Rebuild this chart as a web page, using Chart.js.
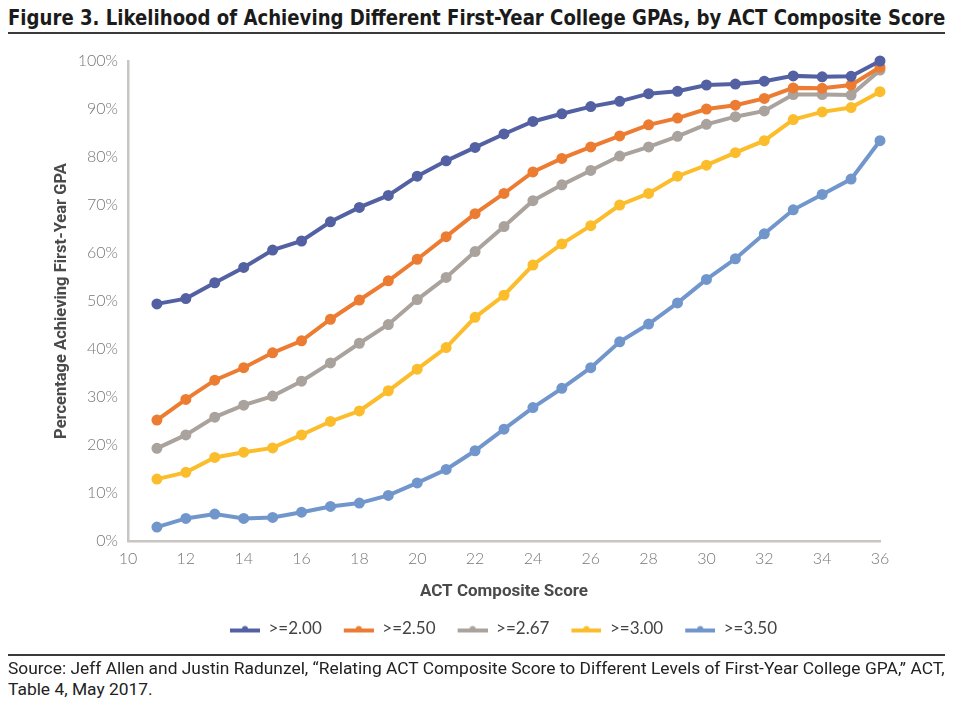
<!DOCTYPE html>
<html>
<head>
<meta charset="utf-8">
<script src="https://cdn.jsdelivr.net/npm/chart.js@4"></script>
<style>
  body { margin: 0; background: #fff; width: 963px; height: 714px; position: relative; overflow: hidden; }
  .fit { position: absolute; left: 8px; white-space: nowrap; transform-origin: 0 0; }
  #title { top: 5px; font: bold 22px "DejaVu Sans", sans-serif; color: #1b1b1b; }
  .rule { position: absolute; left: 8px; width: 937px; background: #3a3a3a; }
  #src1, #src2 { font: 17px Roboto, sans-serif; color: #222; }
  #src1 { top: 658px; }
  #src2 { top: 679px; }
  #wrap { position: absolute; left: 0; top: 40px; width: 963px; height: 620px; }
</style>
</head>
<body>
<div id="title" class="fit">Figure 3. Likelihood of Achieving Different First-Year College GPAs, by ACT Composite Score</div>
<div class="rule" style="top:32px;height:2px"></div>
<div id="wrap"><canvas id="chart"></canvas></div>
<div class="rule" style="top:654px;height:1.5px"></div>
<div id="src1" class="fit">Source: Jeff Allen and Justin Radunzel, “Relating ACT Composite Score to Different Levels of First-Year College GPA,” ACT,</div>
<div id="src2" class="fit">Table 4, May 2017.</div>
<script>
// ACT composite scores on the x axis
const scores = [11, 12, 13, 14, 15, 16, 17, 18, 19, 20, 21, 22, 23, 24, 25, 26, 27, 28, 29, 30, 31, 32, 33, 34, 35, 36];
const xTicks = [10, 12, 14, 16, 18, 20, 22, 24, 26, 28, 30, 32, 34, 36];
const yTicks = [0, 10, 20, 30, 40, 50, 60, 70, 80, 90, 100];

// percent of students reaching each first-year GPA
const gpa200 = [49.4, 50.5, 53.8, 57.0, 60.6, 62.5, 66.5, 69.5, 72.0, 76.0, 79.2, 82.0, 84.8, 87.4, 89.0, 90.5, 91.6, 93.2, 93.7, 95.0, 95.2, 95.8, 96.9, 96.7, 96.8, 100.0];
const gpa250 = [25.2, 29.5, 33.5, 36.1, 39.2, 41.7, 46.2, 50.2, 54.2, 58.7, 63.4, 68.2, 72.4, 76.9, 79.7, 82.1, 84.4, 86.7, 88.1, 90.0, 90.8, 92.2, 94.4, 94.3, 95.0, 98.7];
const gpa267 = [19.3, 22.1, 25.8, 28.3, 30.2, 33.3, 37.1, 41.2, 45.1, 50.3, 54.9, 60.3, 65.5, 70.9, 74.2, 77.2, 80.2, 82.1, 84.3, 86.8, 88.4, 89.6, 93.0, 93.0, 92.9, 98.1];
const gpa300 = [12.9, 14.3, 17.4, 18.5, 19.4, 22.1, 24.9, 27.1, 31.3, 35.8, 40.3, 46.6, 51.2, 57.5, 61.9, 65.7, 70.0, 72.4, 76.0, 78.3, 80.9, 83.4, 87.8, 89.4, 90.3, 93.6];
const gpa350 = [2.9, 4.7, 5.6, 4.7, 4.9, 6.0, 7.2, 7.9, 9.5, 12.1, 14.9, 18.8, 23.3, 27.8, 31.8, 36.1, 41.5, 45.2, 49.6, 54.5, 58.8, 64.0, 69.0, 72.2, 75.4, 83.4];

const seriesNames = ['>=2.00', '>=2.50', '>=2.67', '>=3.00', '>=3.50'];
const seriesData = [gpa200, gpa250, gpa267, gpa300, gpa350];
const seriesColors = ['#5361a3', '#ec7c31', '#a9a29d', '#fbbd2c', '#7196cc'];

// squeeze the html text lines to the width of the rules
function fitWidth(id, w) {
  const el = document.getElementById(id);
  el.style.transform = 'scaleX(' + (w / el.scrollWidth) + ')';
  return w / el.scrollWidth;
}
fitWidth('title', 937);
const s = fitWidth('src1', 937);
document.getElementById('src2').style.transform = 'scaleX(' + s + ')';

// little line + dot pictures for the legend
function legendSample(color) {
  const c = document.createElement('canvas');
  c.width = 42; c.height = 12;
  const g = c.getContext('2d');
  g.strokeStyle = color; g.lineWidth = 4;
  g.beginPath(); g.moveTo(12, 8); g.lineTo(42, 8); g.stroke();
  g.fillStyle = color;
  g.beginPath(); g.arc(27, 6.5, 3, 0, Math.PI * 2); g.fill();
  return c;
}
const samples = seriesColors.map(legendSample);

const datasets = seriesNames.map((name, i) => ({
  label: name,
  data: scores.map((x, j) => ({x: x, y: seriesData[i][j]})),
  borderColor: seriesColors[i],
  backgroundColor: seriesColors[i],
  borderWidth: 4,
  pointRadius: 3.5,
  pointHoverRadius: 3.5,
  tension: 0,
  clip: false
}));

const axisGray = '#c9c5c1';
const tickFont = {family: 'Lato', size: 16, weight: '300'};

const chart = new Chart(document.getElementById('chart'), {
  type: 'line',
  data: {datasets: datasets},
  options: {
    responsive: true,
    maintainAspectRatio: false,
    animation: false,
    layout: {padding: {top: 21, left: 32, right: 0, bottom: 13}},
    plugins: {
      tooltip: {enabled: false},
      legend: {
        position: 'bottom',
        labels: {
          usePointStyle: true,
          pointStyleWidth: 42,
          padding: 10,
          color: '#444',
          font: {family: 'Lato', size: 17},
          generateLabels: (c) => Chart.defaults.plugins.legend.labels.generateLabels(c)
            .map((item, i) => Object.assign(item, {pointStyle: samples[i]}))
        }
      }
    },
    scales: {
      x: {
        type: 'linear',
        min: 10,
        max: 36,
        afterBuildTicks: (sc) => { sc.ticks = xTicks.map(v => ({value: v})); },
        afterFit: (sc) => { sc.height = 69; },
        grid: {display: false, drawTicks: false},
        border: {display: true, color: axisGray, width: 2.5},
        ticks: {color: '#777', font: tickFont, padding: 8, maxRotation: 0},
        title: {display: true, text: 'ACT Composite Score', color: '#4a4a4a', font: {family: 'Roboto', size: 17, weight: 'bold'}, padding: {top: 0, bottom: 8}}
      },
      y: {
        min: 0,
        max: 100,
        afterBuildTicks: (sc) => { sc.ticks = yTicks.map(v => ({value: v})); },
        afterFit: (sc) => { sc.width = 96; },
        grid: {display: false, drawTicks: false},
        border: {display: true, color: axisGray, width: 2.5},
        ticks: {color: '#777', font: tickFont, padding: 10, callback: (v) => v + '%'},
        title: {display: true, text: 'Percentage Achieving First-Year GPA', color: '#4a4a4a', font: {family: 'Roboto', size: 16.5, weight: 'bold'}, padding: {top: 20, bottom: 0}}
      },
      y2: {
        type: 'linear',
        position: 'right',
        afterFit: (sc) => { sc.width = 83; },
        grid: {display: false, drawTicks: false},
        border: {display: false},
        ticks: {display: false}
      }
    }
  }
});
</script>
</body>
</html>
